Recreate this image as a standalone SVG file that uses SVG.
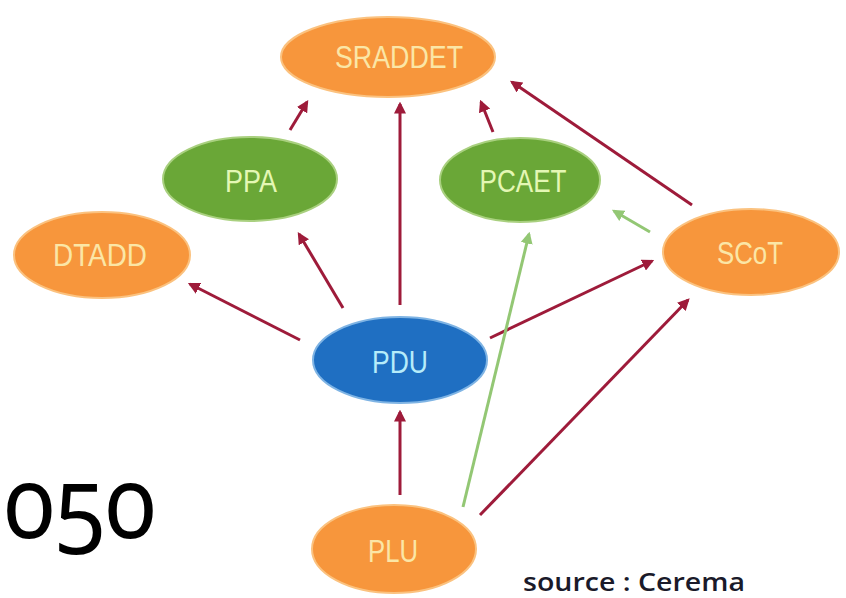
<svg xmlns="http://www.w3.org/2000/svg" width="846" height="598" viewBox="0 0 846 598">
<style>
.org{fill:#f7963c;stroke:#fbc27f;stroke-width:2}
.grn{fill:#6aa737;stroke:#a9d07f;stroke-width:2}
.blu{fill:#1f6fc2;stroke:#7fb4e4;stroke-width:2}
.lbl{font-family:"Liberation Sans",Arial,sans-serif;font-size:31px;text-anchor:middle}
.to{fill:#fbe6a6}.tg{fill:#e4f7b4}.tb{fill:#b6ecfa}
.r{stroke:#9e1b3a;stroke-width:3;fill:none;marker-end:url(#ar)}
.g{stroke:#93c774;stroke-width:3;fill:none;marker-end:url(#ag)}
</style>
<defs>
<marker id="ar" viewBox="0 0 10 10" refX="8" refY="5" markerWidth="12" markerHeight="12" markerUnits="userSpaceOnUse" orient="auto"><path d="M0,0 L10,5 L0,10 z" fill="#9e1b3a"/></marker>
<marker id="ag" viewBox="0 0 10 10" refX="8" refY="5" markerWidth="12" markerHeight="12" markerUnits="userSpaceOnUse" orient="auto"><path d="M0,0 L10,5 L0,10 z" fill="#93c774"/></marker>
</defs>
<rect width="846" height="598" fill="#ffffff"/>
<g id="connectors">
<line class="r" x1="290" y1="130" x2="307" y2="102"/>
<line class="r" x1="400" y1="305" x2="400" y2="104"/>
<line class="r" x1="493" y1="132" x2="481" y2="102"/>
<line class="r" x1="692" y1="205" x2="512" y2="82"/>
<line class="r" x1="343" y1="308" x2="299" y2="234"/>
<line class="r" x1="300" y1="340" x2="190" y2="284"/>
<line class="r" x1="490" y1="338" x2="652" y2="261"/>
<line class="r" x1="400" y1="495" x2="400" y2="412"/>
<line class="r" x1="480" y1="515" x2="688" y2="300"/>
<line class="g" x1="463" y1="507" x2="529" y2="234"/>
<line class="g" x1="650" y1="232" x2="614" y2="211"/>
</g>
<g id="SRADDET"><ellipse class="org" cx="388" cy="57" rx="107" ry="40"/><text class="lbl to" x="399" y="68" textLength="128" lengthAdjust="spacingAndGlyphs">SRADDET</text></g>
<g id="PPA"><ellipse class="grn" cx="250" cy="179" rx="87" ry="42"/><text class="lbl tg" x="251" y="192" textLength="52" lengthAdjust="spacingAndGlyphs">PPA</text></g>
<g id="PCAET"><ellipse class="grn" cx="520" cy="180" rx="80" ry="42"/><text class="lbl tg" x="523" y="192" textLength="87" lengthAdjust="spacingAndGlyphs">PCAET</text></g>
<g id="DTADD"><ellipse class="org" cx="102" cy="255" rx="88" ry="43"/><text class="lbl to" x="100" y="266" textLength="94" lengthAdjust="spacingAndGlyphs">DTADD</text></g>
<g id="SCoT"><ellipse class="org" cx="751" cy="252" rx="88" ry="43"/><text class="lbl to" x="750" y="264" textLength="66" lengthAdjust="spacingAndGlyphs">SCoT</text></g>
<g id="PDU"><ellipse class="blu" cx="400" cy="360" rx="87" ry="43"/><text class="lbl tb" x="400" y="373" textLength="56" lengthAdjust="spacingAndGlyphs">PDU</text></g>
<g id="PLU"><ellipse class="org" cx="394" cy="549" rx="82" ry="44"/><text class="lbl to" x="393" y="562" textLength="50" lengthAdjust="spacingAndGlyphs">PLU</text></g>
<text x="4" y="538" font-family="'Noto Sans','Open Sans',sans-serif" font-size="100" fill="#000000" style="font-variant-numeric:oldstyle-nums" textLength="152" lengthAdjust="spacingAndGlyphs">050</text>
<text x="523" y="591" font-family="'Open Sans','Noto Sans',sans-serif" font-weight="600" font-size="25" fill="#1a1a2a" textLength="222" lengthAdjust="spacingAndGlyphs">source : Cerema</text>
</svg>
